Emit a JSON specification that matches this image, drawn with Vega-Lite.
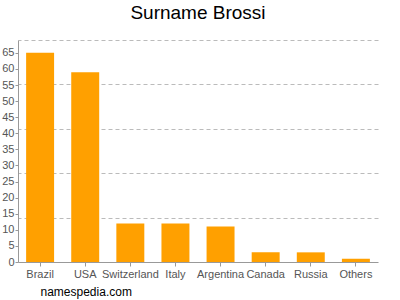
{
  "$schema": "https://vega.github.io/schema/vega-lite/v6.json",
  "width": 360,
  "height": 222,
  "autosize": "none",
  "padding": {"left": 18, "top": 40, "right": 22, "bottom": 38},
  "background": "white",
  "title": {"text": "Surname Brossi", "fontSize": 19, "font": "Liberation Sans", "fontWeight": "normal", "color": "#000", "offset": 17, "anchor": "middle"},
  "config": {"view": {"stroke": null}, "font": "Liberation Sans"},
  "data": {"values": [
    {"country": "Brazil", "count": 65},
    {"country": "USA", "count": 59},
    {"country": "Switzerland", "count": 12},
    {"country": "Italy", "count": 12},
    {"country": "Argentina", "count": 11},
    {"country": "Canada", "count": 3},
    {"country": "Russia", "count": 3},
    {"country": "Others", "count": 1}
  ]},
  "encoding": {
    "x": {"field": "country", "type": "nominal", "sort": null,
      "scale": {"paddingInner": 0.38, "paddingOuter": 0.18},
      "axis": {"labelAngle": 0, "labelColor": "#555", "labelFontSize": 11, "labelPadding": 2, "tickSize": 4, "tickColor": "#999", "domainColor": "#999",
        "title": "namespedia.com", "titleFontSize": 12, "titleFontWeight": "normal", "titleColor": "#000", "titleAlign": "left", "titleAnchor": "start", "titleX": 22, "titleY": 33, "titleBaseline": "alphabetic"}}
  },
  "layer": [
    {
      "mark": {"type": "bar", "color": "#FFA000"},
      "encoding": {
        "y": {"field": "count", "type": "quantitative", "scale": {"domain": [0, 69], "nice": false},
          "axis": {"values": [0,5,10,15,20,25,30,35,40,45,50,55,60,65], "grid": false, "title": null, "labelColor": "#555", "labelFontSize": 11, "tickSize": 3, "tickColor": "#999", "domainColor": "#999", "labelPadding": 1}}
      }
    },
    {
      "mark": {"type": "bar", "opacity": 0},
      "encoding": {
        "y": {"field": "count", "type": "quantitative",
          "axis": {"orient": "right", "values": [13.8, 27.6, 41.4, 55.2, 69], "grid": true, "gridDash": [4, 3], "gridColor": "#bbb", "labels": false, "ticks": false, "domain": false, "title": null}}
      }
    }
  ],
  "resolve": {"axis": {"y": "independent"}}
}
